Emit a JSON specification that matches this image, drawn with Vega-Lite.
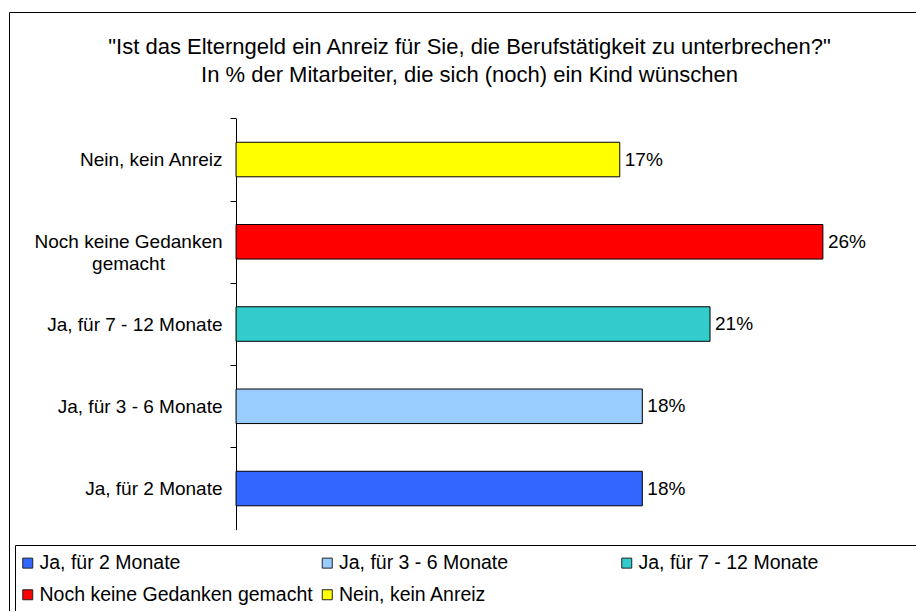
{
  "$schema": "https://vega.github.io/schema/vega-lite/v6.json",
  "width": 908,
  "height": 599,
  "autosize": {"type": "none"},
  "padding": {"left": 9, "top": 12, "right": -1, "bottom": 0},
  "background": "white",
  "config": {
    "view": {"stroke": "black", "strokeWidth": 1, "fill": "white"},
    "font": "Liberation Sans"
  },
  "title": {
    "text": ["\"Ist das Elterngeld ein Anreiz für Sie, die Berufstätigkeit zu unterbrechen?\"", "In % der Mitarbeiter, die sich (noch) ein Kind wünschen"],
    "offset": -84,
    "dx": 6.5,
    "fontSize": 22,
    "fontWeight": "normal",
    "font": "Liberation Sans",
    "lineHeight": 28,
    "anchor": "middle",
    "color": "black"
  },
  "data": {
    "values": [
      {"kategorie": "Nein, kein Anreiz", "anteil": 0.17},
      {"kategorie": "Noch keine Gedanken gemacht", "anteil": 0.26},
      {"kategorie": "Ja, für 7 - 12 Monate", "anteil": 0.21},
      {"kategorie": "Ja, für 3 - 6 Monate", "anteil": 0.18},
      {"kategorie": "Ja, für 2 Monate", "anteil": 0.18}
    ]
  },
  "encoding": {
    "y": {
      "field": "kategorie",
      "type": "nominal",
      "sort": null,
      "scale": {"range": [106.4, 517.65], "paddingInner": 0.58, "paddingOuter": 0.29},
      "axis": {
        "title": null,
        "offset": -227,
        "domainColor": "black",
        "domainWidth": 1,
        "tickColor": "black",
        "tickSize": 6,
        "bandPosition": 0,
        "tickExtra": true,
        "tickOffset": -23.85,
        "labelOffset": 23.85,
        "labelFontSize": 19,
        "labelFont": "Liberation Sans",
        "labelColor": "black",
        "labelAlign": {"condition": {"test": "datum.value == 'Noch keine Gedanken gemacht'", "value": "center"}, "value": "right"},
        "labelPadding": {"condition": {"test": "datum.value == 'Noch keine Gedanken gemacht'", "value": 102}, "value": 8},
        "labelLimit": 300,
        "labelLineHeight": 22,
        "labelExpr": "datum.label == 'Noch keine Gedanken gemacht' ? ['Noch keine Gedanken', 'gemacht'] : datum.label",
        "grid": false
      }
    },
    "x": {
      "field": "anteil",
      "type": "quantitative",
      "scale": {"domain": [-0.1006, 0.3017], "zero": false, "nice": false},
      "axis": null
    }
  },
  "layer": [
    {
      "mark": {"type": "bar", "stroke": "black", "strokeWidth": 1},
      "encoding": {
        "x2": {"datum": 0},
        "color": {
          "field": "kategorie",
          "type": "nominal",
          "scale": {
            "domain": ["Ja, für 2 Monate", "Ja, für 3 - 6 Monate", "Ja, für 7 - 12 Monate", "Noch keine Gedanken gemacht", "Nein, kein Anreiz"],
            "range": ["#3366FF", "#99CCFF", "#33CCCC", "#FF0000", "#FFFF00"]
          },
          "legend": {
            "orient": "none",
            "legendX": 6,
            "legendY": 533,
            "direction": "horizontal",
            "columns": 3,
            "title": " ",
            "titleOrient": "right",
            "titlePadding": 110,
            "titleFontSize": 12,
            "gridAlign": "all",
            "columnPadding": 6.5,
            "rowPadding": 11,
            "padding": 8,
            "strokeColor": "black",
            "fillColor": "white",
            "symbolType": "square",
            "symbolSize": 100,
            "symbolOffset": -5,
            "symbolStrokeColor": "#222222",
            "symbolStrokeWidth": 1,
            "symbolOpacity": 1,
            "labelFontSize": 19.5,
            "labelFont": "Liberation Sans",
            "labelColor": "black",
            "labelOffset": 2,
            "labelLimit": 400
          }
        }
      }
    },
    {
      "mark": {"type": "text", "align": "left", "baseline": "middle", "dx": 5, "fontSize": 19, "font": "Liberation Sans", "color": "black"},
      "encoding": {
        "text": {"field": "anteil", "type": "quantitative", "format": ".0%"}
      }
    }
  ]
}
